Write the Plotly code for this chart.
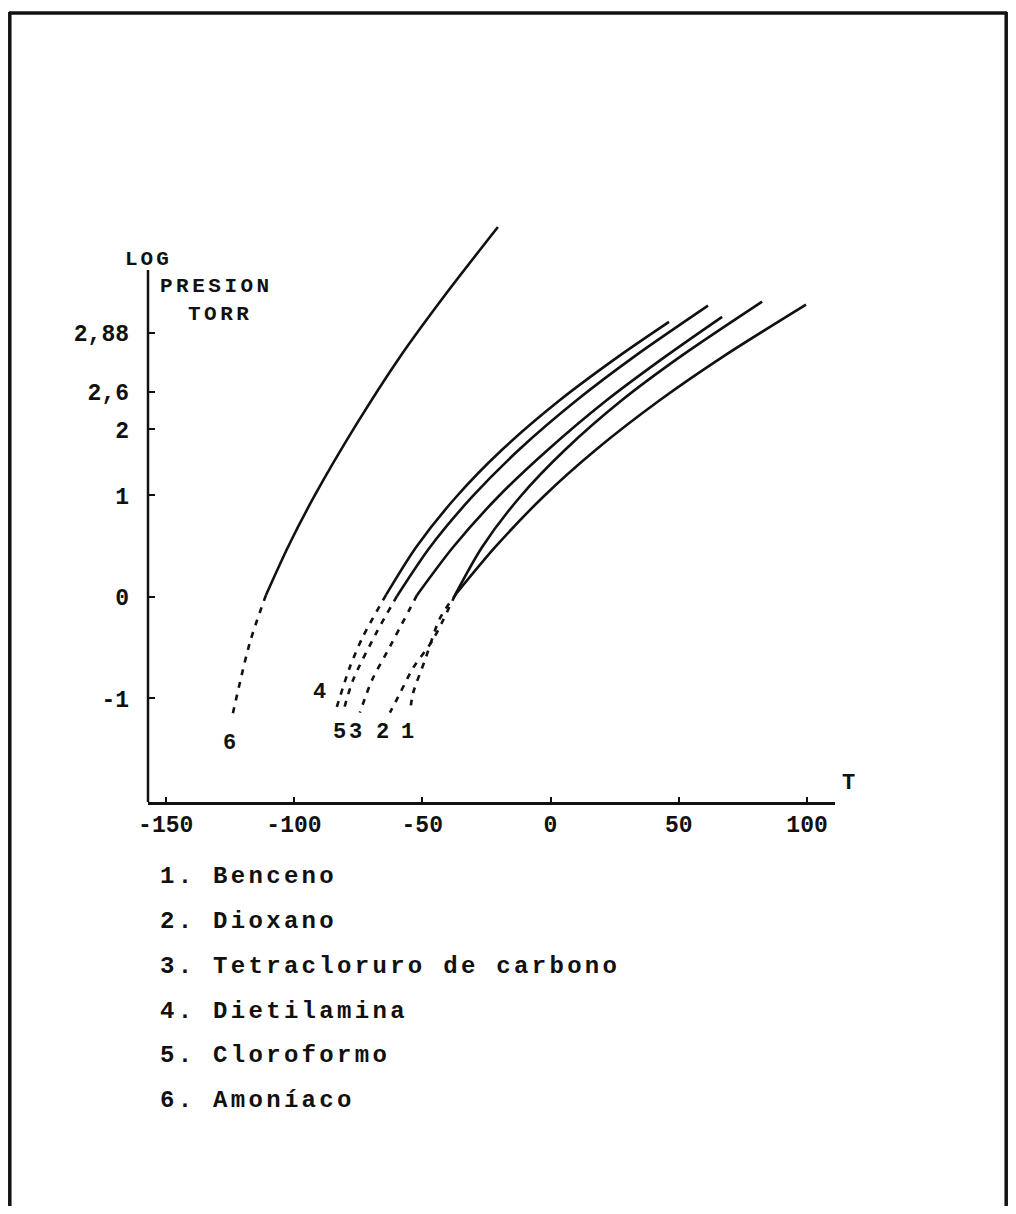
import plotly.graph_objects as go

# ---- data (T in degC, log10 P in torr) ----
NAMES = ["Benceno", "Dioxano", "Tetracloruro de carbono", "Dietilamina", "Cloroformo", "Amoníaco"]
LABELS = ["1", "2", "3", "4", "5", "6"]

# solid (measured) parts
T1 = [-36.5, -21.6, -2.9, 17.7, 42.7, 68.0, 99.6]
L1 = [0.04, 0.49, 0.985, 1.45, 1.94, 2.38, 2.88]
T2 = [-37.2, -26.7, -11.9, 5.7, 27.9, 51.3, 82.5]
L2 = [0.02, 0.49, 0.985, 1.45, 1.94, 2.38, 2.91]
T3 = [-52.0, -38.0, -20.5, -1.0, 22.0, 45.4, 66.9]
L3 = [0.02, 0.49, 0.985, 1.45, 1.94, 2.38, 2.76]
T4 = [-64.1, -52.4, -36.8, -18.9, 3.7, 27.1, 46.2]
L4 = [0.02, 0.49, 0.985, 1.45, 1.94, 2.38, 2.71]
T5 = [-59.8, -47.0, -30.6, -12.3, 10.3, 33.3, 61.4]
L5 = [0.01, 0.49, 0.985, 1.45, 1.94, 2.38, 2.87]
T6 = [-110.9, -102.0, -91.8, -75.8, -58.7, -41.1, -20.5]
L6 = [0.02, 0.51, 1.005, 1.695, 2.365, 2.975, 3.645]

# dashed (extrapolated) parts
T1d = [-36.5, -43.1, -48.9, -53.6, -54.8]
L1d = [0.04, -0.21, -0.62, -0.95, -1.14]
T2d = [-37.2, -45.8, -53.6, -58.7, -62.6]
L2d = [0.02, -0.42, -0.70, -0.95, -1.14]
T3d = [-52.0, -62.6, -69.6, -74.3]
L3d = [0.02, -0.49, -0.82, -1.14]
T4d = [-64.1, -73.1, -78.2, -84.0]
L4d = [0.02, -0.39, -0.69, -1.14]
T5d = [-59.8, -67.6, -77.0, -80.9]
L5d = [0.01, -0.34, -0.82, -1.14]
T6d = [-110.9, -117.2, -124.2]
L6d = [0.02, -0.45, -1.19]

# curve-number labels near the dashed ends
LAB_T = [-55.6, -65.3, -76.2, -89.9, -82.1, -125.0]
LAB_L = [-1.34, -1.34, -1.34, -0.94, -1.34, -1.44]

XTICK_VALS = [-150, -100, -50, 0, 50, 100]
XTICK_TEXT = ["-150", "-100", "-50", "0", "50", "100"]
YTICK_VALS = [-1, 0, 1, 1.65, 2.02, 2.6]
YTICK_TEXT = ["-1", "0", "1", "2", "2,6", "2,88"]

# ---- layout geometry (page has an 8px body margin) ----
OFF = 8
W, H = 1000, 1198
ML, MT = 148 - OFF, 200 - OFF
MR = W - (835 - OFF)
MB = H - (802 - OFF)
PW, PH = W - ML - MR, H - MT - MB
XR = [-156.9, 110.9]
YR = [-2.02, 3.911]
FONT = "Liberation Mono"
INK = "#111111"


def px(x):
    return (x - OFF - ML) / PW


def py(y):
    return (H - MB - (y - OFF)) / PH


def ls(t, sp=3.3):
    return '<span style="letter-spacing:%.1fpx">%s</span>' % (sp, t)


def f(size):
    return dict(family=FONT, size=size, color=INK, weight=700)


fig = go.Figure()

solid = [(T1, L1), (T2, L2), (T3, L3), (T4, L4), (T5, L5), (T6, L6)]
dashed = [(T1d, L1d), (T2d, L2d), (T3d, L3d), (T4d, L4d), (T5d, L5d), (T6d, L6d)]
for i, ((ts, lsv), (td, ld)) in enumerate(zip(solid, dashed)):
    fig.add_trace(go.Scatter(x=ts, y=lsv, mode="lines", name=NAMES[i],
                             line=dict(color=INK, width=2.6, shape="spline", smoothing=0.8),
                             showlegend=False, hoverinfo="skip"))
    fig.add_trace(go.Scatter(x=td, y=ld, mode="lines", name=NAMES[i] + " (ext.)",
                             line=dict(color=INK, width=2.6, shape="spline", smoothing=0.8,
                                       dash="6px,7px"),
                             showlegend=False, hoverinfo="skip"))

annotations = []
for lab, t, l in zip(LABELS, LAB_T, LAB_L):
    annotations.append(dict(x=t, y=l, xref="x", yref="y", text=lab, showarrow=False, font=f(22)))

# axis titles
annotations.append(dict(x=px(123), y=py(246), xref="paper", yref="paper", xanchor="left",
                        text=ls("LOG", 3.0), showarrow=False, font=f(21)))
annotations.append(dict(x=px(158), y=py(273), xref="paper", yref="paper", xanchor="left",
                        text=ls("PRESION", 3.5), showarrow=False, font=f(21)))
annotations.append(dict(x=px(186), y=py(301), xref="paper", yref="paper", xanchor="left",
                        text=ls("TORR", 3.5), showarrow=False, font=f(21)))
annotations.append(dict(x=px(857), y=py(798), xref="paper", yref="paper", text="T",
                        showarrow=False, font=f(22)))

# list of substances
ROW_Y = [892, 937, 982, 1027, 1071, 1116]
for i, (lab, name) in enumerate(zip(LABELS, NAMES)):
    annotations.append(dict(x=px(158), y=py(ROW_Y[i]), xref="paper", yref="paper",
                            xanchor="left", text=ls(lab + ". " + name, 3.3), showarrow=False,
                            font=f(24)))

shapes = [
    # y axis line
    dict(type="line", xref="paper", yref="y", x0=0, x1=0, y0=YR[0], y1=(597 - 270) / 101.5,
         line=dict(color=INK, width=2.5)),
    # frame
    dict(type="line", xref="paper", yref="paper", x0=px(9), x1=px(1007), y0=py(13), y1=py(13),
         line=dict(color=INK, width=3.5)),
    dict(type="line", xref="paper", yref="paper", x0=px(9.8), x1=px(9.8), y0=py(12), y1=py(1210),
         line=dict(color=INK, width=3.5)),
    dict(type="line", xref="paper", yref="paper", x0=px(1006.2), x1=px(1006.2), y0=py(12), y1=py(1210),
         line=dict(color=INK, width=3.5)),
]

fig.update_layout(
    width=W, height=H,
    margin=dict(l=ML, r=MR, t=MT, b=MB, pad=0),
    paper_bgcolor="white", plot_bgcolor="white",
    showlegend=False,
    annotations=annotations,
    shapes=shapes,
    font=dict(family=FONT, color=INK),
    xaxis=dict(range=XR, showgrid=False, zeroline=False, showline=True, linecolor=INK,
               linewidth=2.5, ticks="inside", ticklen=5, tickwidth=2, tickcolor=INK,
               tickvals=XTICK_VALS, ticktext=XTICK_TEXT, ticklabelstandoff=0,
               tickfont=f(23)),
    yaxis=dict(range=YR, showgrid=False, zeroline=False, showline=False,
               ticks="inside", ticklen=7, tickwidth=2, tickcolor=INK,
               tickvals=YTICK_VALS, ticktext=YTICK_TEXT, ticklabelstandoff=18,
               tickfont=f(23)),
)

fig.write_html("out.html")
